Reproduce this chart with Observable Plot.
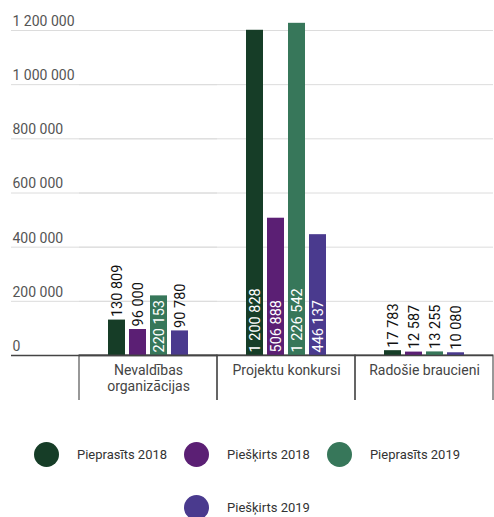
<!DOCTYPE html>
<html>
<head>
<meta charset="utf-8">
<script src="https://cdn.jsdelivr.net/npm/d3@7"></script>
<script src="https://cdn.jsdelivr.net/npm/@observablehq/plot@0.6"></script>
<style>
  body { margin: 0; background: #fff; font-family: Roboto, "Noto Sans", sans-serif; }
  #chart svg { display: block; }
  #legend { display: flex; flex-wrap: wrap; justify-content: center; width: 494px; margin-top: 42px; row-gap: 28px; }
  .item { display: flex; align-items: center; margin: 0 8.5px; font-size: 13px; color: #333; height: 25px; }
  .sw { width: 25px; height: 25px; border-radius: 50%; margin-right: 18px; flex: none; }
</style>
</head>
<body>
<div id="chart"></div>
<div id="legend"></div>
<script>
// ---- data ----
const categories = ["Nevaldības organizācijas", "Projektu konkursi", "Radošie braucieni"];
const categoryLabels = ["Nevaldības\norganizācijas", "Projektu konkursi", "Radošie braucieni"];
const series = ["Pieprasīts 2018", "Piešķirts 2018", "Pieprasīts 2019", "Piešķirts 2019"];
const colors = ["#163d27", "#5b1f74", "#37775a", "#4a3a8e"];
const nevaldibas = [130809, 96000, 220153, 90780];
const projektu = [1200828, 506888, 1226542, 446137];
const radosie = [17783, 12587, 13255, 10080];
const yTicks = [0, 200000, 400000, 600000, 800000, 1000000, 1200000];

const valuesByCategory = [nevaldibas, projektu, radosie];
const data = [];
categories.forEach((c, ci) => series.forEach((s, si) => data.push({category: c, series: s, value: valuesByCategory[ci][si]})));

const fmt = d3.formatLocale({thousands: " ", grouping: [3], decimal: ",", currency: ["", ""]}).format(",");
const insideThreshold = 200000;
const first = categories[0];

const chart = Plot.plot({
  width: 494,
  height: 400,
  marginLeft: 78,
  marginRight: 0,
  marginTop: 30,
  marginBottom: 45,
  style: {fontFamily: "Roboto, sans-serif", fontSize: "13px", background: "#fff"},
  fx: {domain: categories, padding: 0, axis: null},
  x: {domain: series, paddingInner: 0.18, paddingOuter: 1.25, axis: null},
  y: {domain: [0, 1200000], axis: null},
  color: {domain: series, range: colors},
  marks: [
    // gridlines
    Plot.ruleY(yTicks.filter(d => d > 0), {stroke: "#dcdcdc"}),
    Plot.ruleY(yTicks.filter(d => d > 0), {fx: () => first, stroke: "#dcdcdc", insetLeft: -68}),
    // category separators
    Plot.rect(categories, {fx: d => d, y1: 0, y2: -250000, stroke: "#333", fill: "none", strokeWidth: 1}),
    // bars
    Plot.barY(data, {fx: "category", x: "series", y: "value", fill: "series"}),
    // baseline
    Plot.ruleY([0], {stroke: "#444", strokeWidth: 1.5}),
    Plot.ruleY([0], {fx: () => first, stroke: "#444", strokeWidth: 1.5, insetLeft: -68}),
    // y tick labels
    Plot.text(yTicks, {fx: () => first, y: d => d, text: d => fmt(d), frameAnchor: "left", textAnchor: "start", dx: -67, dy: -9, fill: "#555", fontSize: 14}),
    // category labels
    Plot.text(categories, {fx: d => d, y: 0, text: (d, i) => categoryLabels[i], frameAnchor: "middle", lineAnchor: "top", dy: 9, fill: "#444", fontSize: 14, lineHeight: 1.1}),
    // value labels inside bars
    Plot.text(data.filter(d => d.value > insideThreshold), {fx: "category", x: "series", y: 0, text: d => fmt(d.value), rotate: -90, textAnchor: "start", lineAnchor: "middle", dy: -3, fill: "white", fontSize: 14.5}),
    // value labels above bars
    Plot.text(data.filter(d => d.value <= insideThreshold), {fx: "category", x: "series", y: "value", text: d => fmt(d.value), rotate: -90, textAnchor: "start", lineAnchor: "middle", dy: -3, fill: "#111", fontSize: 14.5})
  ]
});
document.getElementById("chart").appendChild(chart);

const legend = document.getElementById("legend");
series.forEach((s, i) => {
  const item = document.createElement("div");
  item.className = "item";
  const sw = document.createElement("span");
  sw.className = "sw";
  sw.style.background = colors[i];
  const t = document.createElement("span");
  t.textContent = s;
  item.appendChild(sw);
  item.appendChild(t);
  legend.appendChild(item);
});
</script>
</body>
</html>
